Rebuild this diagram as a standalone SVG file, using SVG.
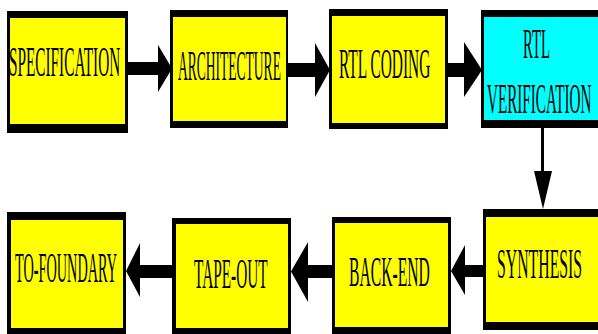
<svg xmlns="http://www.w3.org/2000/svg" width="598" height="334" viewBox="0 0 598 334">
  <style>
    .frame { fill: #000000; }
    .yellow { fill: #FFFF00; }
    .cyan { fill: #00FFFF; }
    .label { font-family: "Liberation Serif", "Times New Roman", serif; font-size: 42px; fill: #000000; }
    .conn { fill: #000000; }
  </style>
  <rect width="598" height="334" fill="#FFFFFF"/>

  <!-- connectors: thick shafts with wide arrowheads -->
  <g id="connectors">
    <rect class="conn" x="127" y="62" width="32" height="13"/>
    <polygon class="conn" points="158,45 172,68.5 158,92"/>
    <rect class="conn" x="287" y="63" width="29" height="14"/>
    <polygon class="conn" points="315,43 330,70 315,97"/>
    <rect class="conn" x="447" y="63" width="18" height="14"/>
    <polygon class="conn" points="464,42 482,70 464,97"/>
    <rect class="conn" x="541" y="127" width="3" height="45"/>
    <polygon class="conn" points="534,171 552,171 543,209"/>
    <rect class="conn" x="464" y="265" width="20" height="12"/>
    <polygon class="conn" points="465,245 451,271 465,295"/>
    <rect class="conn" x="307" y="265" width="26" height="13"/>
    <polygon class="conn" points="308,242 291,271.5 308,302"/>
    <rect class="conn" x="139" y="265" width="34" height="13"/>
    <polygon class="conn" points="140,243 126,271 140,297"/>
  </g>

  <g id="specification">
    <rect class="frame" x="7" y="11" width="121" height="122"/>
    <rect class="yellow" x="10" y="18" width="115" height="106"/>
    <text class="label" transform="translate(9,76) scale(0.364,1)">SPECIFICATION</text>
  </g>

  <g id="architecture">
    <rect class="frame" x="170" y="10" width="118" height="118"/>
    <rect class="yellow" x="173" y="17" width="113" height="104"/>
    <text class="label" transform="translate(178,80) scale(0.322,1)">ARCHITECTURE</text>
  </g>

  <g id="rtl-coding">
    <rect class="frame" x="329" y="9" width="119" height="120"/>
    <rect class="yellow" x="332" y="16" width="113" height="107"/>
    <text class="label" transform="translate(339,78) scale(0.367,1)">RTL CODING</text>
  </g>

  <g id="rtl-verification">
    <rect class="frame" x="481" y="10" width="130" height="118"/>
    <rect class="cyan" x="484" y="17" width="130" height="103"/>
    <text class="label" transform="translate(523,58) scale(0.353,1)">RTL</text>
    <text class="label" transform="translate(487,113) scale(0.361,1)">VERIFICATION</text>
  </g>

  <g id="synthesis">
    <rect class="frame" x="483" y="209" width="130" height="121"/>
    <rect class="yellow" x="486" y="217" width="130" height="105"/>
    <text class="label" transform="translate(497,278) scale(0.376,1)">SYNTHESIS</text>
  </g>

  <g id="back-end">
    <rect class="frame" x="332" y="217" width="119" height="125"/>
    <rect class="yellow" x="335" y="223" width="113" height="104"/>
    <text class="label" transform="translate(349,286) scale(0.373,1)">BACK-END</text>
  </g>

  <g id="tape-out">
    <rect class="frame" x="172" y="218" width="119" height="124"/>
    <rect class="yellow" x="176" y="224" width="112" height="104"/>
    <text class="label" transform="translate(194,288) scale(0.365,1)">TAPE-OUT</text>
  </g>

  <g id="to-foundary">
    <rect class="frame" x="7" y="212" width="119" height="130"/>
    <rect class="yellow" x="11" y="220" width="112" height="108"/>
    <text class="label" transform="translate(15,282) scale(0.340,1)">TO-FOUNDARY</text>
  </g>
</svg>
